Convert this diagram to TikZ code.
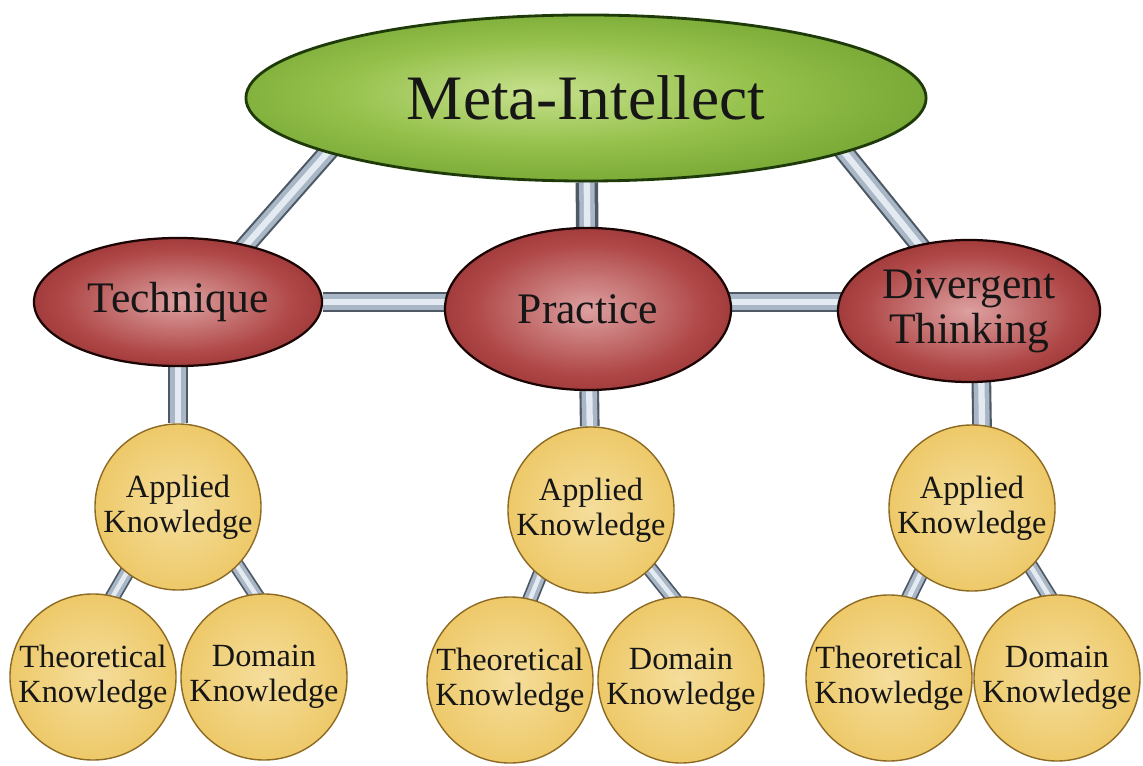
\documentclass[tikz,border=0pt]{standalone}
\usepackage{fontspec}
\setmainfont{Liberation Serif}
\usetikzlibrary{shapes.geometric,calc}
\pgfdeclarelayer{bg}
\pgfsetlayers{bg,main}
\definecolor{greenin}{HTML}{C6E08C}
\definecolor{greenmid}{HTML}{94C04A}
\definecolor{greenout}{HTML}{558A1C}
\definecolor{greenborder}{HTML}{1E3A08}
\definecolor{redin}{HTML}{DDA0A0}
\definecolor{redmid}{HTML}{B04848}
\definecolor{redout}{HTML}{720E0E}
\definecolor{redborder}{HTML}{1A0404}
\definecolor{yelin}{HTML}{F5DE9C}
\definecolor{yelmid}{HTML}{EDC867}
\definecolor{yelout}{HTML}{DDAE45}
\definecolor{yelborder}{HTML}{8C6A24}
\definecolor{barout}{HTML}{4E5966}
\definecolor{barmid}{HTML}{A9B6C5}
\definecolor{barhi}{HTML}{E4EAF1}
\definecolor{textc}{HTML}{161616}
\pgfdeclareradialshading{greensh}{\pgfpoint{-4bp}{2bp}}{color(0bp)=(greenin); color(16bp)=(greenmid); color(42bp)=(greenout); color(50bp)=(greenout)}
\pgfdeclareradialshading{redsh}{\pgfpoint{0bp}{0bp}}{color(0bp)=(redin); color(20bp)=(redmid); color(44bp)=(redout); color(50bp)=(redout)}
\pgfdeclareradialshading{yelsh}{\pgfpoint{0bp}{0bp}}{color(0bp)=(yelin); color(26bp)=(yelmid); color(46bp)=(yelout); color(50bp)=(yelout)}
\begin{document}
\begin{tikzpicture}[x=0.025cm,y=-0.025cm,
  metabox/.style={ellipse, draw=greenborder, line width=2pt, shading=greensh,
    minimum width=17cm, minimum height=4.15cm, inner sep=0pt,
    font=\fontsize{45}{48}\selectfont, text=textc},
  redbox/.style={ellipse, draw=redborder, line width=1.6pt, shading=redsh,
    inner sep=0pt, align=center,
    font=\fontsize{31}{32}\selectfont, text=textc},
  yelbox/.style={circle, draw=yelborder, line width=1pt, shading=yelsh,
    minimum size=4.15cm, inner sep=0pt, align=center,
    font=\fontsize{23}{25}\selectfont, text=textc},
  bar/.style={draw=barout, line width=14pt, line cap=butt,
    postaction={draw=barmid, line width=11pt},
    postaction={draw=barhi, line width=4.5pt}},
  smallbar/.style={draw=barout, line width=11pt, line cap=butt,
    postaction={draw=barmid, line width=8.5pt},
    postaction={draw=barhi, line width=3.2pt}}]
\useasboundingbox (0,0) rectangle (1143,766);

\node[metabox] (meta) at (586,98) {Meta-Intellect};
\node[redbox, minimum width=7.2cm, minimum height=3.2cm] (tech) at (178,302) {Technique};
\node[redbox, minimum width=7.15cm, minimum height=4.05cm] (prac) at (588,309) {Practice};
\node[redbox, minimum width=6.55cm, minimum height=3.55cm] (div) at (969,311) {Divergent\\Thinking};

\node[yelbox] (a1) at (178,507) {Applied\\Knowledge};
\node[yelbox] (t1) at (93,677) {Theoretical\\Knowledge};
\node[yelbox] (d1) at (264,677) {Domain\\Knowledge};
\node[yelbox] (a2) at (591,510) {Applied\\Knowledge};
\node[yelbox] (t2) at (510,680) {Theoretical\\Knowledge};
\node[yelbox] (d2) at (681,680) {Domain\\Knowledge};
\node[yelbox] (a3) at (972,508) {Applied\\Knowledge};
\node[yelbox] (t3) at (889,678) {Theoretical\\Knowledge};
\node[yelbox] (d3) at (1057,678) {Domain\\Knowledge};

\begin{pgfonlayer}{bg}
  \fill[white] (0,0) rectangle (1143,766);
  \draw[bar] ($(tech.40)!-14pt!(meta.192)$) -- ($(meta.192)!-14pt!(tech.40)$);
  \draw[bar] ($(div.127)!-14pt!(meta.348)$) -- ($(meta.348)!-14pt!(div.127)$);
  \draw[bar, line width=16pt] (meta) -- (prac);
  \draw[bar] (tech) -- (tech -| div);
  \draw[bar] (tech) -- (a1);
  \draw[bar] (prac) -- (a2);
  \draw[bar] ([xshift=8pt]div.center) -- ([xshift=8pt]a3.center);
  \draw[smallbar] ($(a1.232)!-12pt!(t1.76)$) -- ($(t1.76)!-12pt!(a1.232)$);
  \draw[smallbar] ($(a1.-45)!-12pt!(d1.96)$) -- ($(d1.96)!-12pt!(a1.-45)$);
  \draw[smallbar] ($(a2.232)!-12pt!(t2.76)$) -- ($(t2.76)!-12pt!(a2.232)$);
  \draw[smallbar] ($(a2.-45)!-12pt!(d2.96)$) -- ($(d2.96)!-12pt!(a2.-45)$);
  \draw[smallbar] ($(a3.232)!-12pt!(t3.76)$) -- ($(t3.76)!-12pt!(a3.232)$);
  \draw[smallbar] ($(a3.-45)!-12pt!(d3.96)$) -- ($(d3.96)!-12pt!(a3.-45)$);
\end{pgfonlayer}
\end{tikzpicture}
\end{document}
